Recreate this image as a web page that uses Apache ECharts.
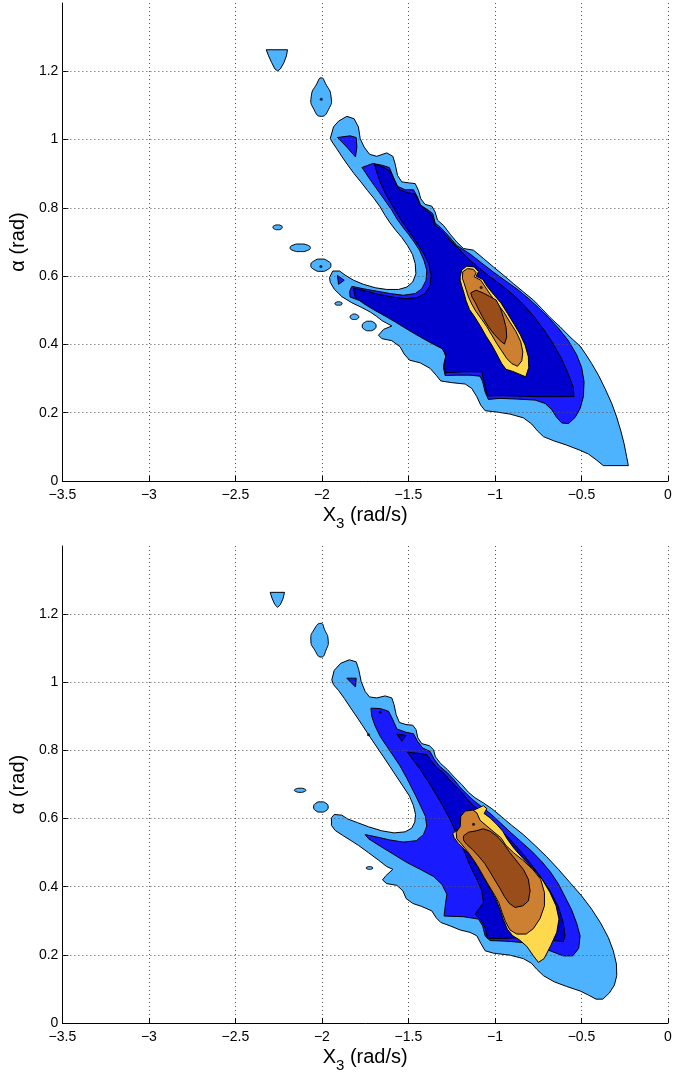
<!DOCTYPE html>
<html><head><meta charset="utf-8">
<script src="https://cdn.jsdelivr.net/npm/echarts/dist/echarts.min.js"></script>
<style>html,body{margin:0;padding:0;background:#fff}#c{width:694px;height:1074px}</style>
</head><body><div id="c"></div>
<script>
// ---------- axis ticks ----------
const xTicks = [-3.5, -3, -2.5, -2, -1.5, -1, -0.5, 0];
const yTicks = [0, 0.2, 0.4, 0.6, 0.8, 1, 1.2];

// ---------- TOP PANEL contour regions (data coords: X3, alpha) ----------
const topLightMain = [[-1.952,1.003],[-1.933,1.037],[-1.904,1.054],[-1.856,1.068],[-1.814,1.061],[-1.789,1.037],[-1.779,1.003],[-1.756,0.978],[-1.725,0.957],[-1.683,0.951],[-1.625,0.961],[-1.590,0.951],[-1.577,0.929],[-1.563,0.895],[-1.538,0.876],[-1.494,0.873],[-1.461,0.871],[-1.442,0.851],[-1.429,0.827],[-1.404,0.810],[-1.365,0.805],[-1.346,0.788],[-1.332,0.764],[-1.298,0.749],[-1.259,0.723],[-1.221,0.700],[-1.182,0.681],[-1.124,0.676],[-1.067,0.652],[-1.009,0.627],[-0.951,0.603],[-0.893,0.578],[-0.836,0.554],[-0.778,0.530],[-0.730,0.505],[-0.682,0.479],[-0.624,0.452],[-0.566,0.422],[-0.508,0.395],[-0.479,0.374],[-0.441,0.344],[-0.402,0.310],[-0.364,0.271],[-0.325,0.227],[-0.297,0.188],[-0.274,0.149],[-0.254,0.110],[-0.239,0.071],[-0.229,0.045],[-0.374,0.045],[-0.412,0.061],[-0.460,0.079],[-0.508,0.090],[-0.585,0.105],[-0.662,0.118],[-0.720,0.130],[-0.755,0.147],[-0.788,0.167],[-0.836,0.185],[-0.913,0.196],[-0.990,0.202],[-1.057,0.206],[-1.082,0.222],[-1.105,0.247],[-1.134,0.271],[-1.172,0.284],[-1.249,0.288],[-1.313,0.293],[-1.340,0.310],[-1.375,0.330],[-1.432,0.346],[-1.494,0.354],[-1.525,0.372],[-1.548,0.393],[-1.596,0.411],[-1.654,0.417],[-1.673,0.427],[-1.644,0.444],[-1.596,0.454],[-1.625,0.462],[-1.654,0.470],[-1.683,0.482],[-1.721,0.495],[-1.769,0.508],[-1.827,0.522],[-1.885,0.540],[-1.929,0.562],[-1.952,0.582],[-1.956,0.596],[-1.937,0.615],[-1.898,0.615],[-1.866,0.603],[-1.817,0.588],[-1.760,0.576],[-1.692,0.566],[-1.625,0.561],[-1.557,0.561],[-1.509,0.568],[-1.475,0.583],[-1.457,0.607],[-1.461,0.637],[-1.477,0.664],[-1.506,0.690],[-1.538,0.713],[-1.573,0.734],[-1.606,0.756],[-1.635,0.778],[-1.664,0.803],[-1.698,0.827],[-1.737,0.851],[-1.775,0.876],[-1.814,0.900],[-1.850,0.925],[-1.883,0.949],[-1.914,0.973],[-1.941,0.993]];
const topLightCap = [[-2.322,1.263],[-2.199,1.263],[-2.205,1.245],[-2.220,1.225],[-2.240,1.207],[-2.256,1.201],[-2.272,1.207],[-2.290,1.225],[-2.308,1.245]];
const topLens = [[-2.004,1.181],[-1.980,1.165],[-1.947,1.125],[-1.962,1.088],[-2.004,1.068],[-2.046,1.088],[-2.062,1.125],[-2.028,1.165]];
const topBlob1 = [[-2.229,0.743],[-2.237,0.748],[-2.256,0.750],[-2.275,0.748],[-2.283,0.743],[-2.275,0.738],[-2.256,0.736],[-2.237,0.738]];
const topBlob2 = [[-2.067,0.683],[-2.085,0.691],[-2.125,0.694],[-2.166,0.691],[-2.184,0.683],[-2.166,0.675],[-2.125,0.672],[-2.085,0.675]];
const topBlob3 = [[-1.948,0.632],[-1.965,0.644],[-2.006,0.650],[-2.047,0.644],[-2.064,0.632],[-2.047,0.620],[-2.006,0.614],[-1.965,0.620]];
const topBlob4 = [[-1.883,0.520],[-1.889,0.523],[-1.904,0.525],[-1.919,0.523],[-1.925,0.520],[-1.919,0.516],[-1.904,0.515],[-1.889,0.516]];
const topBlob5 = [[-1.787,0.481],[-1.795,0.486],[-1.812,0.489],[-1.830,0.486],[-1.837,0.481],[-1.830,0.475],[-1.812,0.473],[-1.795,0.475]];
const topBlob6 = [[-1.687,0.454],[-1.699,0.464],[-1.727,0.468],[-1.755,0.464],[-1.767,0.454],[-1.755,0.444],[-1.727,0.440],[-1.699,0.444]];

const topMedMain = [[-1.769,0.918],[-1.706,0.930],[-1.654,0.925],[-1.610,0.918],[-1.587,0.890],[-1.563,0.863],[-1.519,0.853],[-1.471,0.853],[-1.448,0.832],[-1.429,0.807],[-1.390,0.795],[-1.359,0.783],[-1.346,0.756],[-1.307,0.739],[-1.263,0.715],[-1.221,0.690],[-1.144,0.665],[-1.076,0.638],[-1.009,0.612],[-0.941,0.587],[-0.874,0.563],[-0.807,0.535],[-0.749,0.508],[-0.691,0.479],[-0.634,0.448],[-0.576,0.411],[-0.528,0.370],[-0.499,0.332],[-0.485,0.291],[-0.489,0.247],[-0.508,0.212],[-0.537,0.186],[-0.576,0.168],[-0.614,0.170],[-0.643,0.186],[-0.672,0.209],[-0.710,0.227],[-0.768,0.237],[-0.874,0.240],[-0.971,0.242],[-1.038,0.239],[-1.057,0.261],[-1.071,0.291],[-1.086,0.307],[-1.144,0.310],[-1.221,0.310],[-1.288,0.309],[-1.298,0.334],[-1.284,0.364],[-1.298,0.385],[-1.346,0.403],[-1.404,0.420],[-1.461,0.437],[-1.519,0.456],[-1.577,0.476],[-1.644,0.496],[-1.712,0.512],[-1.779,0.528],[-1.837,0.539],[-1.840,0.555],[-1.827,0.570],[-1.760,0.563],[-1.683,0.556],[-1.606,0.549],[-1.529,0.544],[-1.461,0.549],[-1.423,0.563],[-1.398,0.588],[-1.394,0.617],[-1.410,0.646],[-1.436,0.676],[-1.467,0.700],[-1.500,0.723],[-1.533,0.744],[-1.567,0.768],[-1.596,0.793],[-1.629,0.817],[-1.664,0.842],[-1.698,0.866],[-1.731,0.890],[-1.760,0.912]];
const topMedLobe = [[-1.910,1.006],[-1.837,1.011],[-1.802,1.006],[-1.798,0.978],[-1.806,0.949],[-1.856,0.978]];
const topMedTip = [[-1.910,0.602],[-1.871,0.588],[-1.904,0.576]];

const topDarkMain = [[-1.698,0.929],[-1.648,0.920],[-1.606,0.908],[-1.583,0.881],[-1.552,0.853],[-1.500,0.844],[-1.461,0.840],[-1.436,0.812],[-1.394,0.793],[-1.365,0.778],[-1.346,0.749],[-1.307,0.734],[-1.263,0.707],[-1.211,0.681],[-1.163,0.655],[-1.096,0.626],[-1.028,0.598],[-0.961,0.573],[-0.893,0.545],[-0.836,0.517],[-0.778,0.484],[-0.720,0.445],[-0.662,0.401],[-0.614,0.357],[-0.576,0.313],[-0.547,0.274],[-0.543,0.247],[-0.643,0.247],[-0.759,0.247],[-0.874,0.249],[-0.971,0.250],[-1.043,0.249],[-1.057,0.276],[-1.071,0.305],[-1.076,0.320],[-1.182,0.320],[-1.288,0.317],[-1.294,0.344],[-1.282,0.369],[-1.307,0.388],[-1.365,0.403],[-1.432,0.422],[-1.500,0.442],[-1.567,0.463],[-1.635,0.483],[-1.702,0.502],[-1.760,0.520],[-1.808,0.539],[-1.818,0.565],[-1.750,0.557],[-1.673,0.547],[-1.596,0.539],[-1.519,0.534],[-1.452,0.537],[-1.404,0.549],[-1.375,0.573],[-1.369,0.603],[-1.382,0.635],[-1.409,0.664],[-1.442,0.690],[-1.475,0.715],[-1.509,0.739],[-1.544,0.765],[-1.575,0.791],[-1.606,0.817],[-1.635,0.844],[-1.660,0.871],[-1.679,0.898],[-1.692,0.920]];

const topYellow = [[-1.201,0.598],[-1.192,0.618],[-1.163,0.629],[-1.120,0.627],[-1.095,0.613],[-1.109,0.600],[-1.070,0.590],[-1.047,0.571],[-1.009,0.547],[-0.966,0.522],[-0.928,0.491],[-0.889,0.459],[-0.855,0.430],[-0.826,0.398],[-0.807,0.364],[-0.805,0.332],[-0.822,0.305],[-0.859,0.313],[-0.897,0.321],[-0.936,0.327],[-0.961,0.344],[-0.990,0.372],[-1.018,0.398],[-1.051,0.424],[-1.082,0.452],[-1.115,0.479],[-1.147,0.502],[-1.167,0.528],[-1.178,0.549],[-1.192,0.571],[-1.201,0.588]];
const topOrange = [[-1.188,0.593],[-1.186,0.613],[-1.159,0.622],[-1.124,0.620],[-1.109,0.610],[-1.120,0.598],[-1.082,0.588],[-1.057,0.569],[-1.024,0.544],[-0.986,0.520],[-0.947,0.493],[-0.913,0.465],[-0.878,0.437],[-0.851,0.408],[-0.839,0.378],[-0.845,0.352],[-0.870,0.336],[-0.903,0.344],[-0.932,0.359],[-0.961,0.381],[-0.990,0.403],[-1.018,0.427],[-1.047,0.452],[-1.076,0.473],[-1.109,0.496],[-1.134,0.518],[-1.153,0.539],[-1.167,0.561],[-1.178,0.579]];
const topBrown = [[-1.140,0.551],[-1.109,0.559],[-1.070,0.551],[-1.032,0.541],[-0.993,0.530],[-0.970,0.508],[-0.951,0.479],[-0.936,0.450],[-0.932,0.422],[-0.945,0.401],[-0.970,0.411],[-1.005,0.430],[-1.041,0.454],[-1.070,0.479],[-1.093,0.501],[-1.113,0.522],[-1.132,0.538]];
const topDots = [[-2.004,1.118],[-2.006,0.628],[-1.080,0.567]];

// ---------- BOTTOM PANEL contour regions ----------
const botLightMain = [[-1.943,1.007],[-1.929,1.035],[-1.891,1.056],[-1.841,1.066],[-1.802,1.060],[-1.787,1.037],[-1.773,1.002],[-1.750,0.973],[-1.725,0.957],[-1.683,0.954],[-1.635,0.960],[-1.596,0.954],[-1.583,0.934],[-1.571,0.905],[-1.552,0.882],[-1.514,0.876],[-1.475,0.874],[-1.456,0.861],[-1.446,0.837],[-1.423,0.820],[-1.379,0.814],[-1.355,0.802],[-1.344,0.781],[-1.313,0.761],[-1.275,0.744],[-1.236,0.722],[-1.192,0.700],[-1.153,0.677],[-1.115,0.661],[-1.067,0.646],[-1.018,0.629],[-0.961,0.605],[-0.903,0.580],[-0.836,0.553],[-0.768,0.521],[-0.701,0.488],[-0.633,0.451],[-0.566,0.412],[-0.499,0.373],[-0.441,0.334],[-0.389,0.293],[-0.345,0.251],[-0.316,0.212],[-0.298,0.173],[-0.296,0.139],[-0.310,0.111],[-0.339,0.088],[-0.377,0.070],[-0.416,0.070],[-0.460,0.082],[-0.508,0.094],[-0.585,0.107],[-0.658,0.121],[-0.720,0.139],[-0.759,0.158],[-0.788,0.175],[-0.836,0.189],[-0.913,0.199],[-1.009,0.205],[-1.057,0.212],[-1.082,0.234],[-1.105,0.256],[-1.144,0.266],[-1.201,0.273],[-1.259,0.285],[-1.313,0.295],[-1.340,0.309],[-1.365,0.329],[-1.423,0.342],[-1.475,0.351],[-1.513,0.365],[-1.532,0.388],[-1.567,0.404],[-1.625,0.409],[-1.650,0.420],[-1.629,0.433],[-1.590,0.451],[-1.625,0.459],[-1.673,0.478],[-1.731,0.500],[-1.788,0.521],[-1.837,0.537],[-1.875,0.549],[-1.923,0.565],[-1.945,0.580],[-1.945,0.602],[-1.929,0.612],[-1.885,0.610],[-1.852,0.599],[-1.794,0.588],[-1.731,0.576],[-1.654,0.564],[-1.583,0.558],[-1.519,0.561],[-1.481,0.572],[-1.463,0.590],[-1.459,0.612],[-1.471,0.638],[-1.494,0.666],[-1.529,0.693],[-1.567,0.722],[-1.606,0.752],[-1.644,0.781],[-1.683,0.810],[-1.721,0.839],[-1.760,0.869],[-1.798,0.898],[-1.837,0.927],[-1.871,0.953],[-1.904,0.976],[-1.933,0.993]];
const botLightCap = [[-2.299,1.264],[-2.216,1.264],[-2.225,1.245],[-2.240,1.228],[-2.256,1.220],[-2.272,1.228],[-2.287,1.245]];
const botLens = [[-2.006,1.173],[-1.985,1.155],[-1.964,1.124],[-1.976,1.095],[-2.004,1.074],[-2.042,1.095],[-2.064,1.124],[-2.045,1.155]];
const botBlob1 = [[-2.093,0.683],[-2.102,0.687],[-2.126,0.689],[-2.149,0.687],[-2.159,0.683],[-2.149,0.679],[-2.126,0.677],[-2.102,0.679]];
const botBlob2 = [[-1.964,0.634],[-1.977,0.645],[-2.006,0.649],[-2.035,0.645],[-2.048,0.634],[-2.035,0.623],[-2.006,0.619],[-1.977,0.623]];
const botBlob3 = [[-1.706,0.455],[-1.712,0.458],[-1.725,0.459],[-1.738,0.458],[-1.744,0.455],[-1.738,0.452],[-1.725,0.451],[-1.712,0.452]];

const botMedMain = [[-1.717,0.924],[-1.663,0.923],[-1.615,0.915],[-1.590,0.890],[-1.567,0.863],[-1.513,0.853],[-1.471,0.849],[-1.448,0.827],[-1.417,0.807],[-1.375,0.797],[-1.352,0.775],[-1.321,0.754],[-1.278,0.736],[-1.240,0.716],[-1.198,0.690],[-1.163,0.672],[-1.121,0.652],[-1.070,0.632],[-1.018,0.611],[-0.966,0.586],[-0.909,0.559],[-0.851,0.533],[-0.787,0.504],[-0.730,0.474],[-0.682,0.445],[-0.633,0.408],[-0.595,0.370],[-0.556,0.331],[-0.528,0.293],[-0.508,0.256],[-0.516,0.219],[-0.551,0.197],[-0.605,0.197],[-0.682,0.212],[-0.759,0.228],[-0.836,0.236],[-0.932,0.240],[-1.028,0.242],[-1.057,0.256],[-1.071,0.285],[-1.095,0.305],[-1.182,0.312],[-1.294,0.314],[-1.286,0.349],[-1.278,0.378],[-1.307,0.407],[-1.355,0.430],[-1.432,0.451],[-1.509,0.471],[-1.586,0.495],[-1.663,0.519],[-1.731,0.541],[-1.750,0.553],[-1.683,0.546],[-1.606,0.537],[-1.529,0.531],[-1.455,0.535],[-1.413,0.553],[-1.394,0.578],[-1.402,0.607],[-1.429,0.636],[-1.457,0.666],[-1.486,0.695],[-1.513,0.722],[-1.548,0.754],[-1.586,0.783],[-1.625,0.812],[-1.663,0.841],[-1.692,0.871],[-1.712,0.900]];
const botMedLobe = [[-1.856,1.012],[-1.802,1.012],[-1.806,0.986]];

const botDarkMain = [[-1.506,0.795],[-1.452,0.792],[-1.394,0.788],[-1.365,0.768],[-1.336,0.749],[-1.298,0.735],[-1.259,0.712],[-1.221,0.692],[-1.182,0.672],[-1.144,0.648],[-1.086,0.622],[-1.028,0.594],[-0.971,0.568],[-0.913,0.539],[-0.855,0.506],[-0.797,0.470],[-0.739,0.431],[-0.682,0.388],[-0.633,0.341],[-0.605,0.293],[-0.595,0.256],[-0.605,0.238],[-0.682,0.244],[-0.778,0.248],[-0.874,0.250],[-0.961,0.248],[-1.043,0.248],[-1.057,0.280],[-1.082,0.303],[-1.115,0.319],[-1.067,0.353],[-1.076,0.388],[-1.105,0.422],[-1.144,0.461],[-1.182,0.510],[-1.221,0.553],[-1.259,0.597],[-1.317,0.651],[-1.375,0.700],[-1.432,0.744],[-1.471,0.771]];
const botDarkBit = [[-1.567,0.848],[-1.513,0.844],[-1.538,0.827]];

const botYellow = [[-1.244,0.556],[-1.211,0.570],[-1.186,0.580],[-1.172,0.607],[-1.134,0.622],[-1.095,0.631],[-1.067,0.638],[-1.047,0.629],[-1.063,0.615],[-1.028,0.602],[-0.990,0.583],[-0.955,0.563],[-0.928,0.539],[-0.889,0.512],[-0.836,0.482],[-0.782,0.453],[-0.728,0.422],[-0.682,0.383],[-0.647,0.344],[-0.630,0.305],[-0.643,0.266],[-0.678,0.227],[-0.716,0.189],[-0.749,0.178],[-0.778,0.197],[-0.816,0.225],[-0.859,0.244],[-0.897,0.256],[-0.928,0.275],[-0.951,0.303],[-0.970,0.332],[-0.990,0.358],[-1.013,0.381],[-1.043,0.407],[-1.076,0.436],[-1.109,0.466],[-1.144,0.492],[-1.178,0.511],[-1.211,0.527],[-1.236,0.544]];
const botOrange = [[-1.224,0.560],[-1.201,0.576],[-1.197,0.607],[-1.172,0.622],[-1.128,0.625],[-1.105,0.617],[-1.086,0.595],[-1.047,0.578],[-1.005,0.560],[-0.966,0.544],[-0.936,0.521],[-0.893,0.500],[-0.839,0.478],[-0.782,0.451],[-0.736,0.422],[-0.714,0.383],[-0.714,0.344],[-0.739,0.307],[-0.778,0.277],[-0.820,0.261],[-0.874,0.261],[-0.913,0.273],[-0.939,0.297],[-0.959,0.324],[-0.978,0.353],[-1.005,0.378],[-1.036,0.404],[-1.067,0.431],[-1.097,0.458],[-1.128,0.482],[-1.159,0.504],[-1.190,0.523],[-1.221,0.541]];
const botBrown = [[-1.182,0.549],[-1.153,0.560],[-1.109,0.564],[-1.067,0.570],[-1.028,0.563],[-0.990,0.549],[-0.951,0.527],[-0.913,0.500],[-0.874,0.475],[-0.836,0.451],[-0.807,0.422],[-0.797,0.388],[-0.807,0.358],[-0.839,0.344],[-0.884,0.339],[-0.917,0.351],[-0.945,0.371],[-0.970,0.394],[-1.000,0.419],[-1.028,0.443],[-1.059,0.468],[-1.095,0.490],[-1.132,0.510],[-1.163,0.524],[-1.182,0.537]];
const botDots = [[-1.124,0.583],[-1.731,0.846],[-1.663,0.912]];

// ---------- rendering ----------
const COLORS = ['#4DB3FF', '#1A1AFF', '#0000CC', '#FFD94D', '#CD8032', '#994D1A'];
const FONT = "'Liberation Sans', Arial, Helvetica, sans-serif";
const minus = v => (v < 0 ? '\u2212' + String(-v) : String(v));

function polySeries(polys, level, gi, smooth) {
  return {
    type: 'custom', xAxisIndex: gi, yAxisIndex: gi, z: 3 + level, clip: true, silent: true,
    encode: { x: 0, y: 1 },
    data: polys.map((p, i) => [p[0][0], p[0][1], i]),
    renderItem: function (params, api) {
      const p = polys[api.value(2)];
      return {
        type: 'polygon',
        shape: { points: p.map(q => api.coord(q)), smooth: smooth },
        style: { fill: COLORS[level], stroke: '#000', lineWidth: 1 }
      };
    }
  };
}

const panels = [
  { levels: [[topLightMain, topLightCap], [topMedMain, topMedLobe, topMedTip], [topDarkMain], [topYellow], [topOrange], [topBrown]],
    blobs: [topLens, topBlob1, topBlob2, topBlob3, topBlob4, topBlob5, topBlob6], dots: topDots },
  { levels: [[botLightMain, botLightCap], [botMedMain, botMedLobe], [botDarkMain, botDarkBit], [botYellow], [botOrange], [botBrown]],
    blobs: [botLens, botBlob1, botBlob2, botBlob3], dots: botDots }
];

const grids = [
  { left: 62, right: 26, top: 3, height: 478 },
  { left: 62, right: 26, top: 546, height: 478 }
];

const xAxes = [], yAxes = [], series = [];
grids.forEach((g, gi) => {
  xAxes.push({
    gridIndex: gi, type: 'value', min: -3.5, max: 0, interval: 0.5,
    axisLine: { show: true, onZero: false, lineStyle: { color: '#000', width: 1 } },
    axisTick: { show: true, inside: true, length: 5, lineStyle: { color: '#000' } },
    axisLabel: { color: '#000', fontSize: 14, fontFamily: FONT, margin: 7, formatter: v => minus(v) },
    splitLine: { show: true, lineStyle: { color: '#555', width: 1, type: [1, 3] } },
    name: '{a|X}{b|3}{a| (rad/s)}', nameLocation: 'middle', nameGap: 24,
    nameTextStyle: { color: '#000', fontFamily: FONT, fontSize: 20,
      rich: { a: { fontSize: 20, fontFamily: FONT, color: '#000', verticalAlign: 'top' },
              b: { fontSize: 15, fontFamily: FONT, color: '#000', verticalAlign: 'top', padding: [11, 0, 0, 0] } } }
  });
  yAxes.push({
    gridIndex: gi, type: 'value', min: 0, max: 1.4, interval: 0.2,
    axisLine: { show: true, onZero: false, lineStyle: { color: '#000', width: 1 } },
    axisTick: { show: true, inside: true, length: 6, lineStyle: { color: '#000' }, customValues: yTicks },
    axisLabel: { color: '#000', fontSize: 14, fontFamily: FONT, margin: 4, customValues: yTicks,
                 formatter: v => (v > 1.3 ? '' : String(Math.round(v * 10) / 10)) },
    splitLine: { show: false },
    name: '\u03b1 (rad)', nameLocation: 'middle', nameGap: 32, nameRotate: 90,
    nameTextStyle: { color: '#000', fontSize: 20, fontFamily: FONT }
  });
  // horizontal dotted grid lines at the tick values
  series.push({
    type: 'line', xAxisIndex: gi, yAxisIndex: gi, data: [], z: 1, silent: true,
    markLine: { silent: true, symbol: 'none', label: { show: false }, animation: false,
      lineStyle: { color: '#555', width: 1, type: [1, 3] },
      data: yTicks.filter(v => v > 0).map(v => ({ yAxis: v })) }
  });
  const P = panels[gi];
  P.levels.forEach((polys, level) => series.push(polySeries(polys, level, gi, 0)));
  series.push(polySeries(P.blobs, 0, gi, 0.6));
  series.push({ type: 'scatter', xAxisIndex: gi, yAxisIndex: gi, z: 20, silent: true,
    symbolSize: 3, itemStyle: { color: '#000' }, data: P.dots });
});

const chart = echarts.init(document.getElementById('c'), null, { renderer: 'canvas' });
chart.setOption({ animation: false, backgroundColor: '#fff', grid: grids, xAxis: xAxes, yAxis: yAxes, series: series });
</script></body></html>
